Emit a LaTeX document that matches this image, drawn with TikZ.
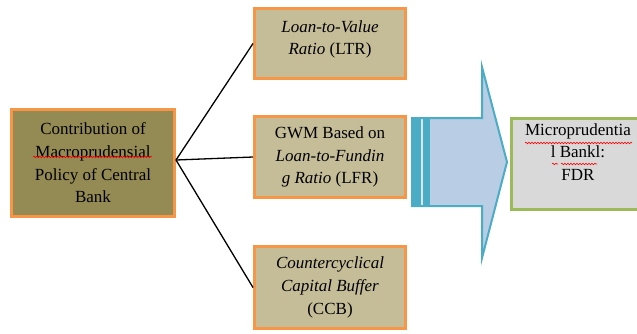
\documentclass[tikz,border=0pt]{standalone}
\usepackage{fontspec}
\setmainfont{Liberation Serif}
\usetikzlibrary{positioning,decorations.pathmorphing}
\definecolor{boxorange}{HTML}{F79646}
\definecolor{olivefill}{HTML}{948A54}
\definecolor{tanfill}{HTML}{C4BD97}
\definecolor{arrowfill}{HTML}{B9CDE5}
\definecolor{arrowedge}{HTML}{4BACC6}
\definecolor{greyfill}{HTML}{D9D9D9}
\definecolor{greenedge}{HTML}{9BBB59}
\begin{document}
\begin{tikzpicture}[x=1pt,y=-1pt,
    box/.style={draw=boxorange, line width=3pt, align=center, inner sep=2pt,
      font=\fontsize{17}{22.7}\selectfont},
    policy/.style={box, fill=olivefill, minimum width=163pt, minimum height=107pt},
    instrument/.style={box, fill=tanfill, minimum width=151pt},
    spell/.style={red, line width=0.6pt, decorate,
      decoration={snake, amplitude=0.8pt, segment length=3pt}}]
  \clip (0,0) rectangle (637,333);

  % central bank policy
  \node[policy] (src) at (93,163) {Contribution of\\Macroprudensial\\Policy of Central\\Bank};

  % the three instruments
  \node[instrument, minimum height=70pt, text depth=12pt] (ltr) at (330,43.5) {\textit{Loan-to-Value}\\\textit{Ratio} (LTR)};
  \node[instrument, minimum height=81pt] (lfr) at (330,157) {GWM Based on\\\textit{Loan-to-Fundin}\\\textit{g Ratio} (LFR)};
  \node[instrument, minimum height=82pt] (ccb) at (330,287.5) {\textit{Countercyclical}\\\textit{Capital Buffer}\\(CCB)};

  % fork lines
  \coordinate (fork) at ([yshift=3pt]src.east);
  \draw[line width=1.3pt] (fork) -- (ltr.west);
  \draw[line width=1.3pt] (fork) -- (lfr.west);
  \draw[line width=1.3pt] (fork) -- (ccb.west);

  % striped arrow
  \fill[arrowfill] (412,118) -- (482,118) -- (482,67) -- (507,162) -- (482,258) -- (482,206) -- (412,206) -- cycle;
  \fill[arrowedge] (412,118) rectangle (430,206);
  \draw[arrowfill!50!white, line width=1.5pt] (422,119) -- (422,205);
  \draw[arrowedge, line width=2pt, line join=miter] (412,118) -- (482,118) -- (482,67) -- (507,162) -- (482,258) -- (482,206) -- (412,206) -- cycle;

  % bank side
  \node[draw=greenedge, fill=greyfill, line width=3pt, minimum width=140pt, minimum height=91pt] (fdr) at (581.5,164) {};
  \node[align=center, inner sep=0pt, font=\fontsize{17}{22.7}\selectfont] (fdrtext) at (578,152) {Microprudentia\\l Bankl:\\FDR};

  % spell check marks
  \draw[spell] (33,157) -- (152,157);
  \draw[spell] (525,143) -- (632,143);
  \draw[spell] (552,164) -- (558,164);
  \draw[spell] (561,164) -- (597,164);
\end{tikzpicture}
\end{document}
